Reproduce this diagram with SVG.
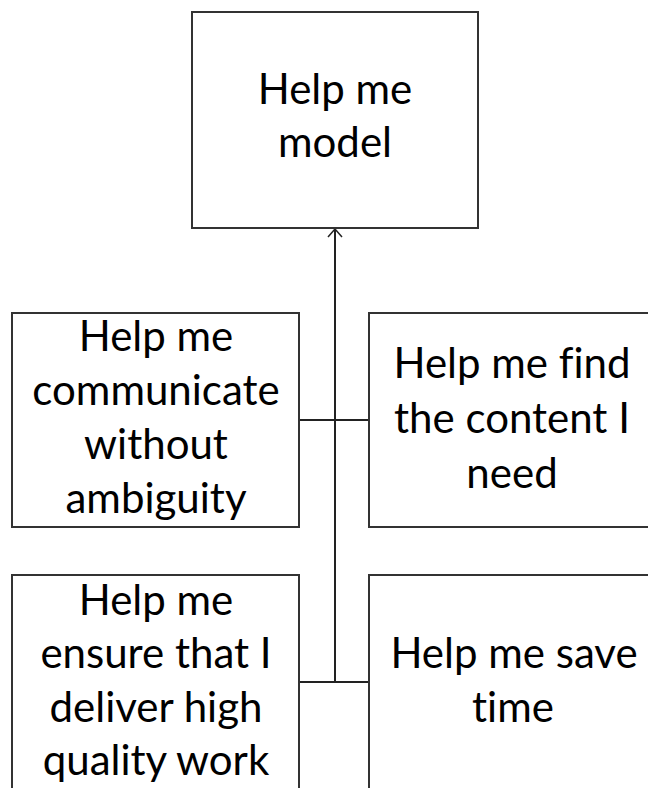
<svg xmlns="http://www.w3.org/2000/svg" width="648" height="788" viewBox="0 0 648 788">
  <style>
    .box { fill: #ffffff; stroke: #333333; stroke-width: 2; }
    .label { font-family: Lato, "Open Sans", "Liberation Sans", sans-serif; font-size: 42px; fill: #000000; text-anchor: middle; font-variant-ligatures: none; }
    .wire { fill: none; stroke: #222222; stroke-width: 2; }
  </style>
  <defs>
    <!-- open chevron arrowhead, pointing along the path direction -->
    <marker id="arrow" viewBox="0 0 10 16" refX="9" refY="8" markerWidth="10" markerHeight="16" markerUnits="userSpaceOnUse" orient="auto">
      <path d="M1,1 L9,8 L1,15" fill="none" stroke="#222222" stroke-width="1.5"/>
    </marker>
  </defs>
  <rect width="648" height="788" fill="#ffffff"/>

  <!-- connectors: trunk up to the root, and two cross-bars -->
  <g id="connectors">
    <path class="wire" d="M335,682 L335,229" marker-end="url(#arrow)"/>
    <path class="wire" d="M299,420 L369,420"/>
    <path class="wire" d="M299,682 L369,682"/>
  </g>

  <g id="model">
    <rect class="box" x="192" y="12" width="286" height="216"/>
    <text class="label" x="335" y="104">Help me</text>
    <text class="label" x="335" y="157">model</text>
  </g>

  <g id="communicate">
    <rect class="box" x="12" y="313" width="287" height="214"/>
    <text class="label" x="156" y="351">Help me</text>
    <text class="label" x="156" y="405">communicate</text>
    <text class="label" x="156" y="459">without</text>
    <text class="label" x="156" y="513">ambiguity</text>
  </g>

  <g id="find-content">
    <rect class="box" x="369" y="313" width="290" height="214"/>
    <text class="label" x="512" y="378">Help me find</text>
    <text class="label" x="512" y="433">the content I</text>
    <text class="label" x="512" y="488">need</text>
  </g>

  <g id="quality">
    <rect class="box" x="12" y="575" width="287" height="220"/>
    <text class="label" x="156" y="615">Help me</text>
    <text class="label" x="156" y="668">ensure that I</text>
    <text class="label" x="156" y="722">deliver high</text>
    <text class="label" x="156" y="775">quality work</text>
  </g>

  <g id="save-time">
    <rect class="box" x="369" y="575" width="290" height="220"/>
    <text class="label" x="514" y="668">Help me save</text>
    <text class="label" x="513" y="722">time</text>
  </g>
</svg>
